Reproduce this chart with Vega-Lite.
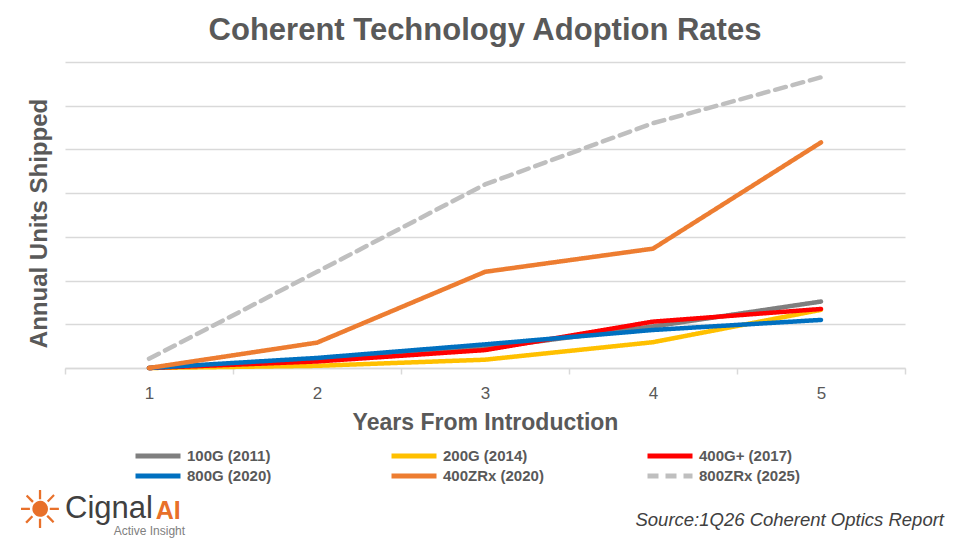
{
  "$schema": "https://vega.github.io/schema/vega-lite/v6.json",
  "autosize": "none",
  "width": 840,
  "height": 306,
  "padding": {"left": 65, "top": 62, "right": 50, "bottom": 172},
  "background": "white",
  "config": {
    "font": "Liberation Sans",
    "view": {"stroke": null}
  },
  "title": {
    "text": "Coherent Technology Adoption Rates",
    "fontSize": 31,
    "fontWeight": "bold",
    "color": "#595959",
    "anchor": "middle",
    "offset": 15,
    "font": "Liberation Sans"
  },
  "datasets": {
    "series": [
      {"year": 1, "series": "100G (2011)", "units": 0},
      {"year": 2, "series": "100G (2011)", "units": 0.18},
      {"year": 3, "series": "100G (2011)", "units": 0.45},
      {"year": 4, "series": "100G (2011)", "units": 0.95},
      {"year": 5, "series": "100G (2011)", "units": 1.52},
      {"year": 1, "series": "200G (2014)", "units": 0},
      {"year": 2, "series": "200G (2014)", "units": 0.05},
      {"year": 3, "series": "200G (2014)", "units": 0.19},
      {"year": 4, "series": "200G (2014)", "units": 0.59},
      {"year": 5, "series": "200G (2014)", "units": 1.33},
      {"year": 1, "series": "400G+ (2017)", "units": 0},
      {"year": 2, "series": "400G+ (2017)", "units": 0.15},
      {"year": 3, "series": "400G+ (2017)", "units": 0.41},
      {"year": 4, "series": "400G+ (2017)", "units": 1.06},
      {"year": 5, "series": "400G+ (2017)", "units": 1.35},
      {"year": 1, "series": "800G (2020)", "units": 0},
      {"year": 2, "series": "800G (2020)", "units": 0.23},
      {"year": 3, "series": "800G (2020)", "units": 0.54},
      {"year": 4, "series": "800G (2020)", "units": 0.87},
      {"year": 5, "series": "800G (2020)", "units": 1.1},
      {"year": 1, "series": "400ZRx (2020)", "units": 0},
      {"year": 2, "series": "400ZRx (2020)", "units": 0.58},
      {"year": 3, "series": "400ZRx (2020)", "units": 2.2},
      {"year": 4, "series": "400ZRx (2020)", "units": 2.73},
      {"year": 5, "series": "400ZRx (2020)", "units": 5.16},
      {"year": 1, "series": "800ZRx (2025)", "units": 0.21},
      {"year": 2, "series": "800ZRx (2025)", "units": 2.2},
      {"year": 3, "series": "800ZRx (2025)", "units": 4.2},
      {"year": 4, "series": "800ZRx (2025)", "units": 5.6},
      {"year": 5, "series": "800ZRx (2025)", "units": 6.65}
    ],
    "source": [{"label": "Source:1Q26 Coherent Optics Report"}],
    "icon": [{"label": "☀"}],
    "brand": [{"label": "Cignal"}],
    "brandAI": [{"label": "AI"}],
    "tagline": [{"label": "Active Insight"}]
  },
  "layer": [
    {
      "data": {"name": "series"},
      "mark": {"type": "line", "strokeWidth": 4.5, "strokeCap": "round", "strokeJoin": "round"},
      "encoding": {
        "x": {
          "field": "year",
          "type": "quantitative",
          "scale": {"domain": [0.5, 5.5], "nice": false, "zero": false},
          "axis": {
            "values": [0.5, 1.5, 2.5, 3.5, 4.5, 5.5],
            "labelExpr": "datum.value < 5 ? format(datum.value + 0.5, 'd') : ''",
            "labelOffset": 84,
            "labelFlush": false,
            "labelFontSize": 17,
            "labelColor": "#595959",
            "labelPadding": 11,
            "domainColor": "#d9d9d9",
            "domainWidth": 1.5,
            "tickColor": "#d9d9d9",
            "tickWidth": 1.5,
            "tickSize": 6,
            "grid": false,
            "title": "Years From Introduction",
            "titleFontSize": 23,
            "titleFontWeight": "bold",
            "titleColor": "#595959",
            "titlePadding": 10
          }
        },
        "y": {
          "field": "units",
          "type": "quantitative",
          "scale": {"domain": [0, 7], "nice": false},
          "axis": {
            "values": [0, 1, 2, 3, 4, 5, 6, 7],
            "labels": false,
            "ticks": false,
            "domain": false,
            "grid": true,
            "gridColor": "#d9d9d9",
            "gridWidth": 1.5,
            "title": "Annual Units  Shipped",
            "titleFontSize": 24,
            "titleFontWeight": "bold",
            "titleColor": "#595959",
            "titlePadding": 14,
            "titleY": 161
          }
        },
        "color": {
          "field": "series",
          "type": "nominal",
          "scale": {
            "domain": ["100G (2011)", "200G (2014)", "400G+ (2017)", "800G (2020)", "400ZRx (2020)", "800ZRx (2025)"],
            "range": ["#7f7f7f", "#ffc000", "#ff0000", "#0070c0", "#ed7d31", "#bfbfbf"]
          },
          "legend": {
            "title": null,
            "orient": "none",
            "legendX": 68,
            "legendY": 384,
            "direction": "horizontal",
            "columns": 3,
            "gridAlign": "all",
            "columnPadding": 101,
            "rowPadding": 0,
            "clipHeight": 20,
            "symbolType": "stroke",
            "symbolSize": 2025,
            "symbolStrokeWidth": 5,
            "labelFontSize": 15,
            "labelFontWeight": "bold",
            "labelColor": "#595959",
            "labelOffset": 4,
            "labelLimit": 200,
            "symbolStrokeCap": "round"
          }
        },
        "strokeDash": {
          "field": "series",
          "type": "nominal",
          "scale": {
            "domain": ["100G (2011)", "200G (2014)", "400G+ (2017)", "800G (2020)", "400ZRx (2020)", "800ZRx (2025)"],
            "range": [[1, 0], [1, 0], [1, 0], [1, 0], [1, 0], [11, 7]]
          },
          "legend": null
        }
      }
    },
    {
      "data": {"name": "source"},
      "mark": {"type": "text", "align": "right", "baseline": "middle", "fontSize": 18.5, "fontStyle": "italic", "color": "#404040"},
      "encoding": {
        "x": {"datum": 5.732, "type": "quantitative"},
        "y": {"datum": -3.477, "type": "quantitative"},
        "text": {"field": "label"}
      }
    },
    {
      "data": {"name": "icon"},
      "mark": {"type": "text", "align": "center", "baseline": "middle", "fontSize": 52, "color": "#e8702a", "font": "DejaVu Sans"},
      "encoding": {
        "x": {"datum": 0.352, "type": "quantitative"},
        "y": {"datum": -3.3, "type": "quantitative"},
        "text": {"field": "label"}
      }
    },
    {
      "data": {"name": "brand"},
      "mark": {"type": "text", "align": "left", "baseline": "middle", "fontSize": 31, "color": "#404040"},
      "encoding": {
        "x": {"datum": 0.5, "type": "quantitative"},
        "y": {"datum": -3.23, "type": "quantitative"},
        "text": {"field": "label"}
      }
    },
    {
      "data": {"name": "brandAI"},
      "mark": {"type": "text", "align": "left", "baseline": "middle", "fontSize": 25, "fontWeight": "bold", "color": "#e8702a"},
      "encoding": {
        "x": {"datum": 1.04, "type": "quantitative"},
        "y": {"datum": -3.27, "type": "quantitative"},
        "text": {"field": "label"}
      }
    },
    {
      "data": {"name": "tagline"},
      "mark": {"type": "text", "align": "left", "baseline": "middle", "fontSize": 12, "color": "#808080"},
      "encoding": {
        "x": {"datum": 0.79, "type": "quantitative"},
        "y": {"datum": -3.73, "type": "quantitative"},
        "text": {"field": "label"}
      }
    }
  ]
}
